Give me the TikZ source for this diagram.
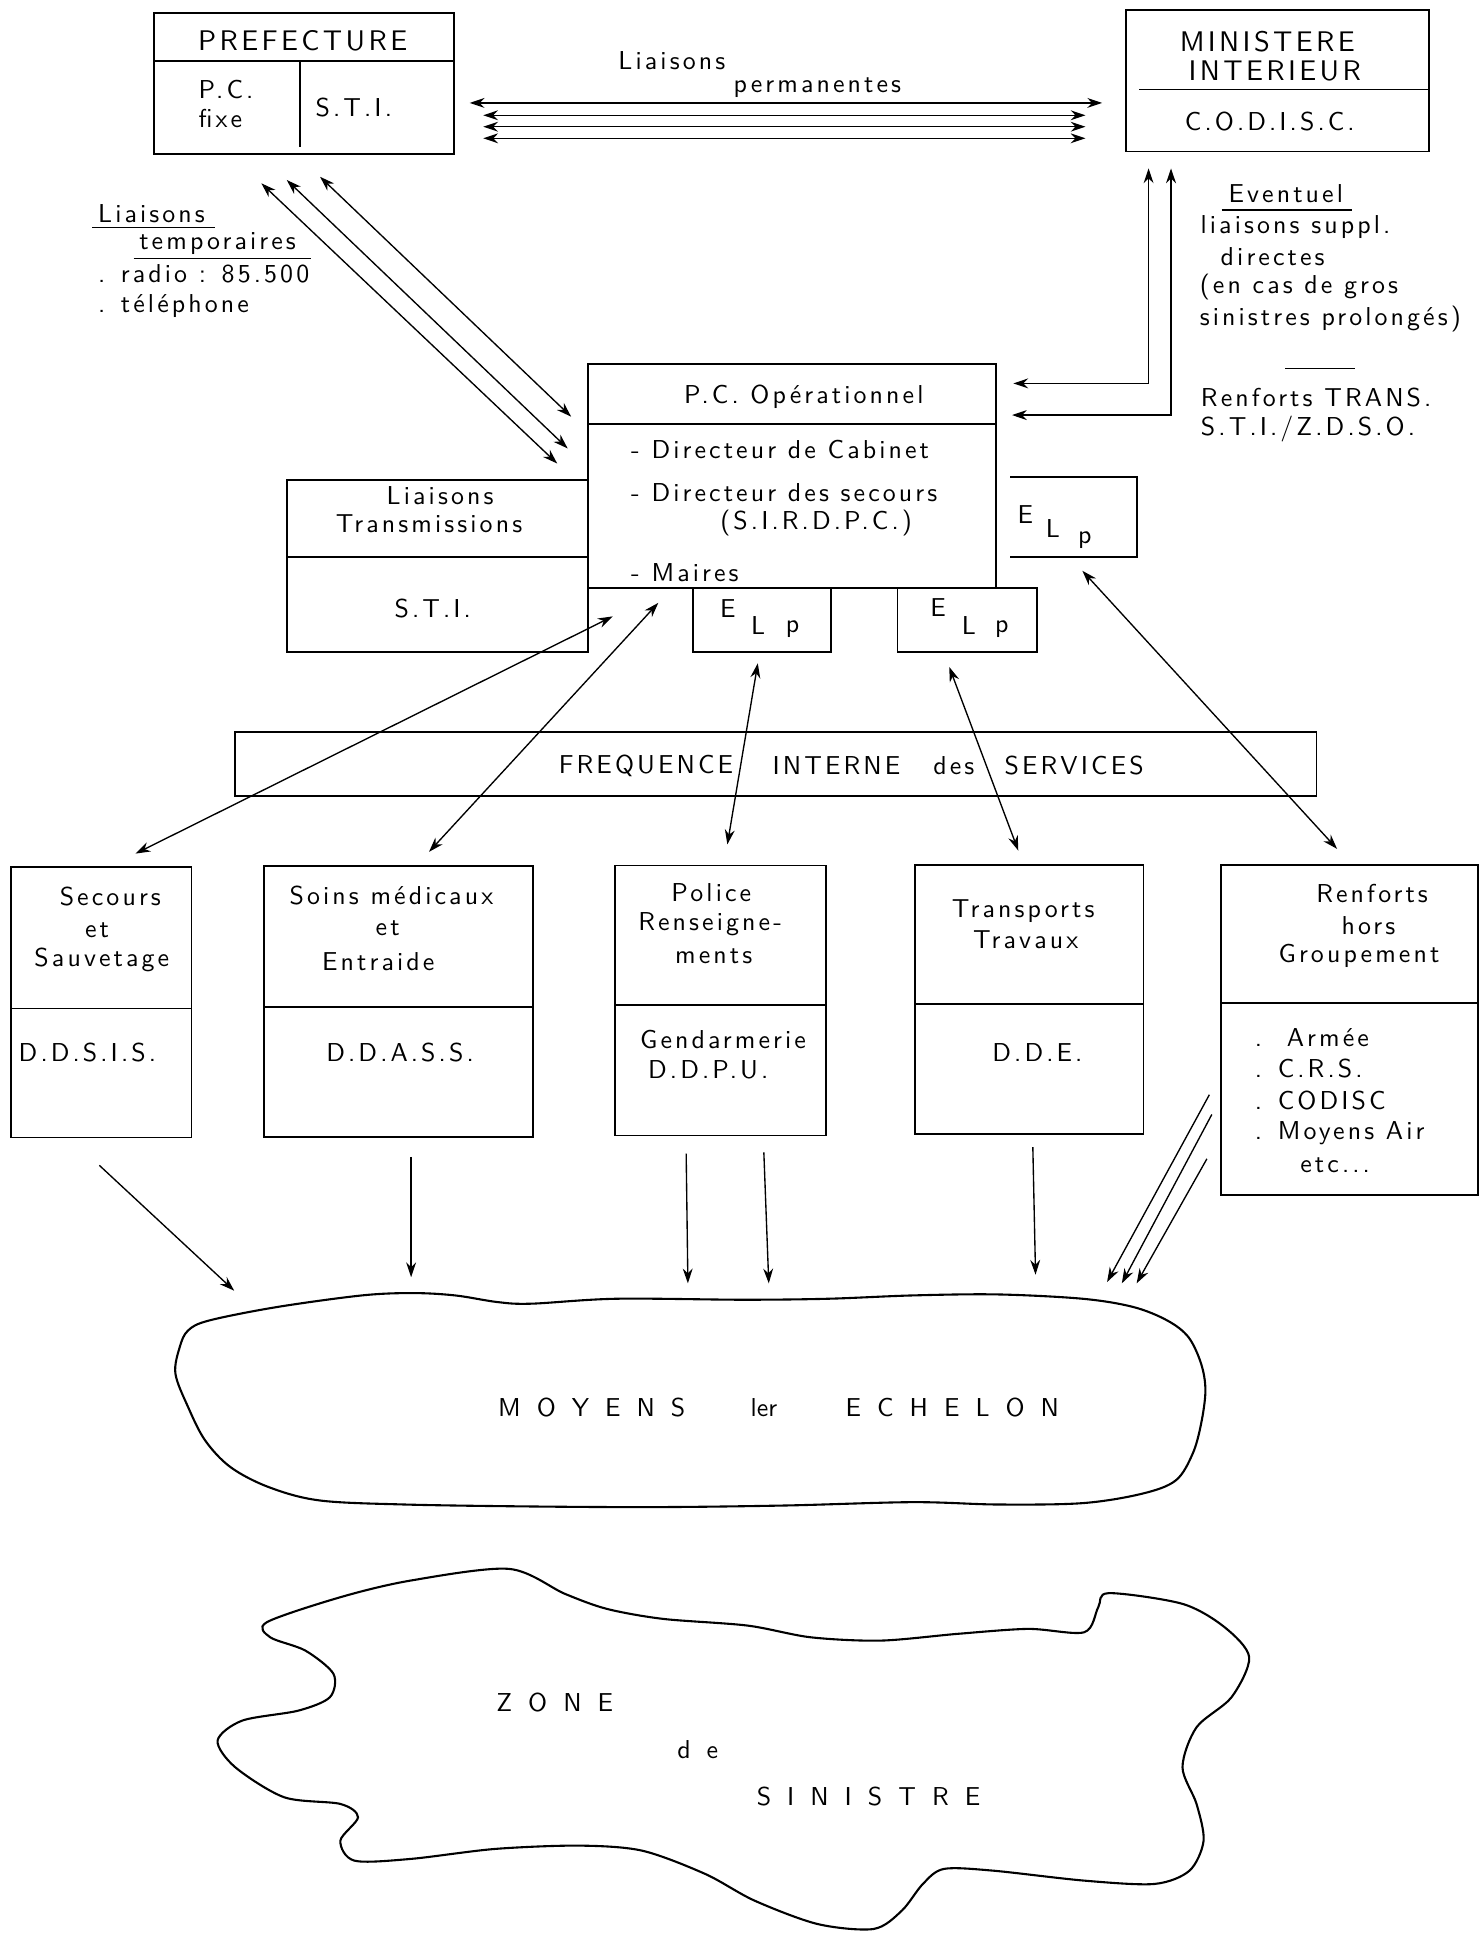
\documentclass[tikz,border=0pt]{standalone}
\usepackage{fontspec}
\usetikzlibrary{arrows.meta,fit}
\newfontfamily\lsw{lmsans10-regular.otf}[LetterSpace=12]
\newfontfamily\lsp{lmsans10-regular.otf}
\newcommand\lbf{\fontsize{21}{26}\selectfont\lsw}
\newcommand\ttf{\fontsize{23}{20}\selectfont\lsw}
\newcommand\spf{\fontsize{21}{26}\selectfont\lsp}
\newcommand\gs{\hspace{13pt}}
\tikzset{
  box/.style={draw, line width=1.4pt, inner sep=0pt, outer sep=0pt},
  ln/.style={line width=1.4pt},
  uline/.style={line width=1.1pt},
  lbl/.style={font=\lbf, inner sep=0pt, align=center},
  lbll/.style={font=\lbf, inner sep=0pt, anchor=west, align=left},
  ttl/.style={font=\ttf, inner sep=0pt, align=center},
  spc/.style={font=\spf, inner sep=0pt},
  arr/.style={line width=1.1pt, -{Stealth[length=12pt,width=8pt]}},
  darr/.style={line width=1.1pt, {Stealth[length=12pt,width=8pt]}-{Stealth[length=12pt,width=8pt]}},
  blob/.style={line width=1.7pt},
}
\begin{document}
\begin{tikzpicture}[x=1pt,y=-1pt]
\fill[white] (0,0) rectangle (1200,1568);
\useasboundingbox (0,0) rectangle (1200,1568);

% ---------------- PREFECTURE
\node[box, fit={(125,10.8) (368,125)}] (pref) {};
\draw[ln] (125,49.5) -- (368,49.5);
\draw[ln] (243.4,49.5) -- (243.4,119);
\node[ttl] (preft) at (245.5,33.5) {PREFECTURE};
\node[lbll] (pcf1) at (161,72.5) {P.C.};
\node[lbll] (pcf2) at (161,96.5) {fixe};
\node[lbl] (prefsti) at (287,87.5) {S.T.I.};

% ---------------- MINISTERE
\node[box, fit={(913.5,8) (1159,123)}] (mini) {};
\draw[ln] (924,72.5) -- (1159,72.5);
\node[ttl] (mint1) at (1028,33.5) {MINISTERE};
\node[ttl] (mint2) at (1034,57.5) {INTERIEUR};
\node[lbl] (codisc) at (1030,98.5) {C.O.D.I.S.C.};

% ---------------- Liaisons permanentes
\node[lbl] (lp1) at (545,49.5) {Liaisons};
\node[lbl] (lp2) at (663,71) {permanentes};
\coordinate (pa1) at (381,83.5);   \coordinate (pb1) at (894,83.5);
\coordinate (pa2) at (392,93.5);   \coordinate (pb2) at (880.5,93.5);
\coordinate (pa3) at (392,102.8);  \coordinate (pb3) at (880.5,102.8);
\coordinate (pa4) at (392,112.2);  \coordinate (pb4) at (880.5,112.2);
\draw[darr] (pa1) -- (pb1);
\draw[darr] (pa2) -- (pb2);
\draw[darr] (pa3) -- (pb3);
\draw[darr] (pa4) -- (pb4);

% ---------------- Liaisons temporaires
\node[lbll] (lt1) at (79.4,173) {Liaisons};
\draw[uline] (75,184.7) -- (174.5,184.7);
\node[lbll] (lt2) at (112.8,197.4) {temporaires};
\draw[uline] (108.4,209.6) -- (251.9,209.6);
\node[lbll] (lt3) at (79.4,222) {. radio : 85.500};
\node[lbll] (lt4) at (79.4,248.5) {. téléphone};
\coordinate (ta1) at (212,148.7);   \coordinate (tb1) at (452,376);
\coordinate (ta2) at (232.6,146);   \coordinate (tb2) at (460.5,363.8);
\coordinate (ta3) at (259.6,143.4); \coordinate (tb3) at (463.3,338);
\draw[darr] (ta1) -- (tb1);
\draw[darr] (ta2) -- (tb2);
\draw[darr] (ta3) -- (tb3);

% ---------------- Right side text and L arrows
\node[lbl] (ev) at (1043,157) {Eventuel};
\draw[uline] (991,170.4) -- (1096.8,170.4);
\node[lbll] (ev1) at (973.7,184) {liaisons suppl.};
\node[lbll] (ev2) at (990,208.5) {directes};
\node[lbll] (ev3) at (973,233) {(en cas de gros};
\node[lbll] (ev4) at (973,259) {sinistres prolongés)};
\draw[uline] (1042.7,298.9) -- (1099.5,298.9);
\node[lbll] (rt1) at (974,322.5) {Renforts TRANS.};
\node[lbll] (rt2) at (974,348) {S.T.I./Z.D.S.O.};
\coordinate (ma1) at (931.7,136.6); \coordinate (mb1) at (822,311);
\coordinate (ma2) at (949.9,136.6); \coordinate (mb2) at (820.9,336.7);
\draw[darr] (ma1) |- (mb1);
\draw[darr] (ma2) |- (mb2);

% ---------------- Liaisons Transmissions box
\node[box, fit={(233,389.5) (477,529)}] (ltr) {};
\draw[ln] (233,451.7) -- (477,451.7);
\node[lbl] (ltr1) at (357,401.7) {Liaisons};
\node[lbl] (ltr2) at (348,424.6) {Transmissions};
\node[lbl] (ltr3) at (351,493.5) {S.T.I.};

% ---------------- P.C. Operationnel
\node[box, fit={(477,295) (808,476.8)}] (pco) {};
\draw[ln] (477,344) -- (808,344);
\draw[ln] (808,476.8) -- (839,476.8);
\node[lbl] (pcot) at (652,321.5) {P.C. Opérationnel};
\node[lbll] (pco1) at (511.8,364.3) {- Directeur de Cabinet};
\node[lbll] (pco2) at (511.8,399.7) {- Directeur des secours};
\node[lbl] (pco3) at (662,424.6) {(S.I.R.D.P.C.)};
\node[lbll] (pco4) at (511.8,464.7) {- Maires};

% ---------------- ELp boxes
\node[box, fit={(562,476.8) (674,529)}] (elp1) {};
\node[box, fit={(728,476.8) (841,529)}] (elp2) {};
\draw[ln] (819.5,386.8) -- (922,386.8) -- (922,451.7) -- (819.5,451.7);
\node[lbl] (e1E) at (590.5,494) {E};
\node[lbl] (e1L) at (615,507) {L};
\node[lbl] (e1p) at (643,510) {p};
\node[lbl] (e2E) at (761,493) {E};
\node[lbl] (e2L) at (786,507) {L};
\node[lbl] (e2p) at (812.6,510) {p};
\node[lbl] (e3E) at (831.7,417) {E};
\node[lbl] (e3L) at (854,429) {L};
\node[lbl] (e3p) at (880,438) {p};

% ---------------- FREQUENCE box
\node[box, fit={(190.8,594) (1068,645.5)}] (freq) {};
\node[lbl] (fq1) at (524,621) {FREQUENCE};
\node[lbl] (fq2) at (678.5,621) {INTERNE};
\node[lbl] (fq3) at (773.7,621) {des};
\node[lbl] (fq4) at (871.3,621) {SERVICES};

% ---------------- Service boxes
\node[box, fit={(9,703) (155.4,922.6)}] (sec) {};
\draw[ln] (9,818) -- (155.4,818);
\node[lbl] (sec1) at (89.5,727.5) {Secours};
\node[lbl] (sec2) at (78.7,754.6) {et};
\node[lbl] (sec3) at (82.6,779) {Sauvetage};
\node[lbll] (sec4) at (15,854) {D.D.S.I.S.};

\node[box, fit={(214,702.5) (432.6,922)}] (soi) {};
\draw[ln] (214,817) -- (432.6,817);
\node[lbl] (soi1) at (317.5,726.2) {Soins médicaux};
\node[lbl] (soi2) at (314.5,753.3) {et};
\node[lbl] (soi3) at (306.8,780.3) {Entraide};
\node[lbl] (soi4) at (324.5,854) {D.D.A.S.S.};

\node[box, fit={(498.7,702) (670,921)}] (pol) {};
\draw[ln] (498.7,815.5) -- (670,815.5);
\node[lbl] (pol1) at (577,724) {Police};
\node[lbl] (pol2) at (576,750) {Renseigne-};
\node[lbl] (pol3) at (579,776) {ments};
\node[lbl] (pol4) at (586.5,843) {Gendarmerie};
\node[lbl] (pol5) at (574.5,868) {D.D.P.U.};

\node[box, fit={(742,701.5) (927.6,920)}] (tra) {};
\draw[ln] (742,814.6) -- (927.6,814.6);
\node[lbl] (tra1) at (830,739) {Transports};
\node[lbl] (tra2) at (832,762.4) {Travaux};
\node[lbl] (tra3) at (841.5,854) {D.D.E.};

\node[box, fit={(990.7,701.5) (1199,969.6)}] (ren) {};
\draw[ln] (990.7,813.8) -- (1199,813.8);
\node[lbl] (ren1) at (1113,724.6) {Renforts};
\node[lbl] (ren2) at (1110,750.6) {hors};
\node[lbl] (ren3) at (1102.4,775.5) {Groupement};
\node[lbll] (ren4) at (1017.8,842) {.\hspace{20pt}Armée};
\node[lbll] (ren5) at (1017.8,866.6) {. C.R.S.};
\node[lbll] (ren6) at (1017.8,892.9) {. CODISC};
\node[lbll] (ren7) at (1017.8,919) {. Moyens Air};
\node[lbl] (ren8) at (1083,945) {etc...};

% ---------------- arrows P.C. <-> services
\coordinate (ua) at (497,500);   \coordinate (da) at (110,692.4);
\coordinate (ub) at (534,489);   \coordinate (db) at (348,691);
\coordinate (uc) at (614.7,538); \coordinate (dc) at (590,685);
\coordinate (ud) at (770,541);   \coordinate (dd) at (826,690);
\coordinate (ue) at (878,463);   \coordinate (de) at (1084.6,688.6);
\draw[darr] (ua) -- (da);
\draw[darr] (ub) -- (db);
\draw[darr] (uc) -- (dc);
\draw[darr] (ud) -- (dd);
\draw[darr] (ue) -- (de);

% ---------------- arrows services -> MOYENS
\coordinate (s1a) at (80.6,945.3);  \coordinate (s1b) at (190,1047);
\coordinate (s2a) at (333.5,938.5); \coordinate (s2b) at (333.5,1036);
\coordinate (s3a) at (556.6,935.7); \coordinate (s3b) at (558,1041);
\coordinate (s4a) at (619.6,934.7); \coordinate (s4b) at (623.6,1041);
\coordinate (s5a) at (837.8,930.5); \coordinate (s5b) at (840,1034);
\coordinate (s6a) at (981,888);     \coordinate (s6b) at (898,1040);
\coordinate (s7a) at (983,904);     \coordinate (s7b) at (910,1041);
\coordinate (s8a) at (979,940);     \coordinate (s8b) at (922,1041);
\foreach \i in {1,...,8} {\draw[arr] (s\i a) -- (s\i b);}

% ---------------- MOYENS blob
\draw[blob] plot[smooth cycle, tension=0.55] coordinates {
 (152.6,1079.2) (169.8,1071.1) (224.8,1060.2) (293.6,1050.8) (334.9,1048.9)
 (369.2,1050.8) (403.6,1056.2) (431.1,1057.5) (499.9,1053.5) (603,1054.3)
 (671.8,1053.5) (740.5,1050.8) (809.3,1050) (878.1,1053.5) (919.3,1060.2)
 (946.8,1071.1) (964,1084.6) (974.3,1106.2) (977.8,1127.9) (974.3,1154.9)
 (967.4,1179.3) (953.7,1200.9) (926.2,1211.7) (878.1,1219.3) (809.3,1220.4)
 (740.5,1218.5) (637.4,1221.2) (534.3,1222.5) (431.1,1222) (328,1220.4)
 (259.2,1217.1) (218,1206.3) (187,1190.1) (166.4,1168.4) (152.6,1141.4)
 (142.3,1114.3) (145.8,1092.7)};
\node[spc] (moy1) at (480,1142) {M\gs O\gs Y\gs E\gs N\gs S};
\node[spc] (moy2) at (619.6,1142) {ler};
\node[spc] (moy3) at (772.5,1142) {E\gs C\gs H\gs E\gs L\gs O\gs N};

% ---------------- ZONE blob
\draw[blob] plot[smooth cycle, tension=0.5] coordinates {
 (216.4,1315.9) (276.1,1295.6) (333.1,1282.1) (412.7,1272.6) (458.3,1292.9)
 (492.4,1305.1) (538,1313.2) (606.3,1318.6) (657.5,1328.1) (714.4,1330.8)
 (777,1325.3) (834,1321.3) (879.5,1324) (890.9,1303.7) (899.4,1292.3)
 (959.2,1301) (993.3,1319.9) (1013.3,1344.3) (999,1376.7) (970.6,1401.1)
 (959.2,1433.5) (970.6,1463.3) (976.3,1493.1) (964.9,1517.4) (936.4,1528.2)
 (879.5,1525.5) (805.5,1517.4) (765.7,1516) (748.6,1528.2) (731.5,1549.9)
 (708.7,1564.7) (663.2,1560.7) (612,1541.7) (572.1,1520.1) (520.9,1501.2)
 (469.7,1497.1) (401.4,1499.8) (333.1,1507.9) (287.5,1509.3) (276.1,1493.1)
 (290.4,1474.1) (276.1,1463.3) (230.6,1457.9) (190.8,1433.5) (176.5,1411.9)
 (196.5,1395.7) (242,1387.6) (267.6,1376.7) (270.5,1357.8) (247.7,1338.9)
 (219.2,1328.1)};
\node[spc] (zn1) at (450,1381) {Z\gs O\gs N\gs E};
\node[spc] (zn2) at (566,1419.5) {d\gs e};
\node[spc] (zn3) at (704.5,1457) {S\gs I\gs N\gs I\gs S\gs T\gs R\gs E};
\end{tikzpicture}
\end{document}
